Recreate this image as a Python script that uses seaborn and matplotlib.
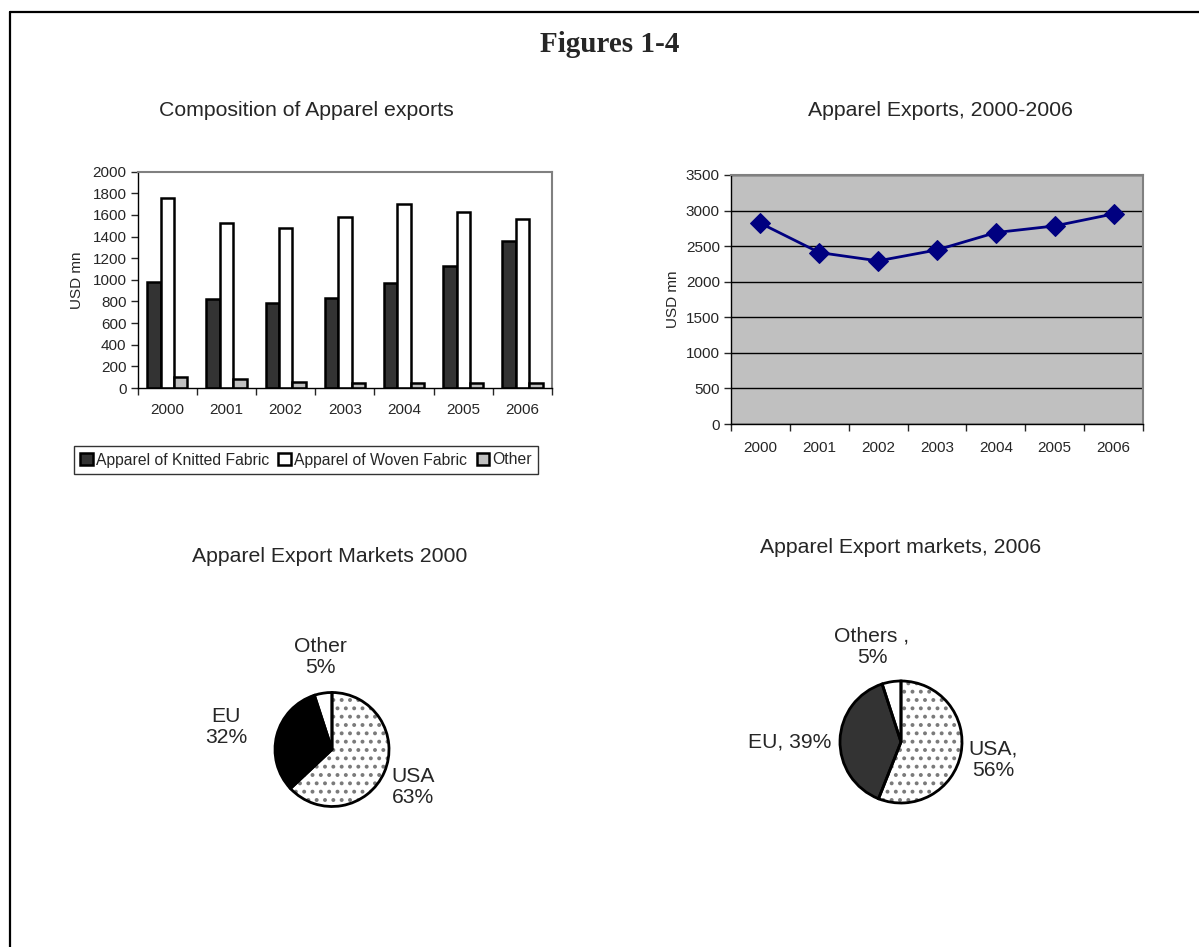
import numpy as np
import pandas as pd
import matplotlib
matplotlib.use("Agg")
import matplotlib.pyplot as plt
from matplotlib.lines import Line2D
import seaborn as sns

# ---------------- data ----------------
years = ["2000", "2001", "2002", "2003", "2004", "2005", "2006"]
knitted = [977, 820, 783, 829, 971, 1128, 1362]
woven = [1753, 1528, 1476, 1581, 1698, 1630, 1565]
other = [99, 83, 52, 49, 46, 46, 46]
series_names = ["Apparel of Knitted Fabric", "Apparel of Woven Fabric", "Other"]

total_exports = [2822, 2410, 2293, 2447, 2691, 2784, 2953]

pie2000_labels = ["USA\n63%", "EU\n32%", "Other\n5%"]
pie2000_values = [63, 32, 5]
pie2006_labels = ["USA,\n56%", "EU, 39%", "Others ,\n5%"]
pie2006_values = [56, 39, 5]

# ---------------- style ----------------
sns.set_style("white")
plt.rcParams["font.family"] = ["Liberation Sans", "DejaVu Sans"]
plt.rcParams["hatch.linewidth"] = 1.6

W, H = 1199, 947
fig = plt.figure(figsize=(W / 100, H / 100), dpi=100)


def fx(x):
    return x / W


def fy(y):
    return 1 - y / H


def box(l, t, r, b):
    return [fx(l), fy(b), fx(r) - fx(l), (b - t) / H]


# border of the page
fig.add_artist(Line2D([fx(10), 1.0], [fy(12.5), fy(12.5)], color="black", lw=1.6))
fig.add_artist(Line2D([fx(10), fx(10)], [0, fy(12.5)], color="black", lw=1.6))

fig.text(fx(610), fy(45), "Figures 1-4", ha="center", va="center",
         fontsize=21, fontweight="bold", family=["Liberation Serif", "DejaVu Serif"])

TICK_FS = 11
LEG_FS = 11.3
SUB_FS = 15.3
PIE_FS = 15.2

# ---------------- bar chart ----------------
ax1 = fig.add_axes(box(137.7, 171.7, 552, 388))
df = pd.DataFrame({
    "year": years * 3,
    "value": knitted + woven + other,
    "type": [series_names[0]] * 7 + [series_names[1]] * 7 + [series_names[2]] * 7,
})
sns.barplot(data=df, x="year", y="value", hue="type", ax=ax1,
            palette=["#333333", "#ffffff", "#c0c0c0"], saturation=1,
            edgecolor="black", linewidth=1.8, width=0.68, gap=0)
handles, labels = ax1.get_legend_handles_labels()
ax1.get_legend().remove()
ax1.set_xlim(-0.5, 6.5)
ax1.set_ylim(0, 2000)
ax1.set_yticks(np.arange(0, 2001, 200))
ax1.set_xlabel("")
ax1.set_ylabel("USD mn", fontsize=TICK_FS, labelpad=6)
ax1.set_xticks(np.arange(-0.5, 7, 1), minor=True)
ax1.tick_params(axis="x", which="major", length=0, labelsize=TICK_FS, pad=11)
ax1.tick_params(axis="x", which="minor", length=5, width=1, direction="out", bottom=True)
ax1.tick_params(axis="y", length=5, width=1, direction="out", left=True, labelsize=TICK_FS, pad=3)
for s in ["left", "bottom"]:
    ax1.spines[s].set_color("black")
    ax1.spines[s].set_linewidth(1)
for s in ["top", "right"]:
    ax1.spines[s].set_color("#808080")
    ax1.spines[s].set_linewidth(1.5)
fig.text(fx(306), fy(110), "Composition of Apparel exports", ha="center", va="center", fontsize=SUB_FS)

leg = fig.legend(handles, labels, loc="center", bbox_to_anchor=(fx(306), fy(460)), ncol=3,
                 fontsize=LEG_FS, frameon=True, fancybox=False, edgecolor="black",
                 handlelength=0.8, handleheight=0.8, handletextpad=0.2, columnspacing=0.6,
                 borderpad=0.4, borderaxespad=0)
leg.get_frame().set_linewidth(1)

# ---------------- line chart ----------------
ax2 = fig.add_axes(box(731, 175, 1143, 424))
ax2.set_facecolor("#c0c0c0")
xpos = list(range(len(years)))
sns.lineplot(x=xpos, y=total_exports, ax=ax2, color="#000080", linewidth=2,
             marker="D", markersize=10.5, markeredgecolor="#000080")
ax2.set_xlim(-0.5, 6.5)
ax2.set_ylim(0, 3500)
ax2.set_yticks(np.arange(0, 3501, 500))
ax2.set_xticks(xpos)
ax2.set_xticklabels(years)
ax2.set_xticks(np.arange(-0.5, 7, 1), minor=True)
ax2.yaxis.grid(True, color="black", linewidth=1)
ax2.set_axisbelow(True)
ax2.set_ylabel("USD mn", fontsize=TICK_FS)
ax2.tick_params(axis="x", which="major", length=0, labelsize=TICK_FS, pad=12)
ax2.tick_params(axis="x", which="minor", length=5, width=1, direction="out", bottom=True)
ax2.tick_params(axis="y", length=5, width=1, direction="out", left=True, labelsize=TICK_FS, pad=3)
for s in ["left", "bottom"]:
    ax2.spines[s].set_color("black")
    ax2.spines[s].set_linewidth(1)
for s in ["top", "right"]:
    ax2.spines[s].set_color("#808080")
    ax2.spines[s].set_linewidth(1.5)
fig.text(fx(940), fy(110), "Apparel Exports, 2000-2006", ha="center", va="center", fontsize=SUB_FS)


# ---------------- pies ----------------
def draw_pie(cx, cy, r, values, colors):
    s = 2.5 * r
    ax = fig.add_axes(box(cx - s / 2, cy - s / 2, cx + s / 2, cy + s / 2))
    ax.pie(values, colors=colors, startangle=90, counterclock=False,
           hatch=["..", "", ""],
           wedgeprops=dict(edgecolor="#7a7a7a", linewidth=0))
    ax.pie(values, startangle=90, counterclock=False,
           wedgeprops=dict(fill=False, edgecolor="black", linewidth=2))
    return ax


draw_pie(332, 749.5, 57, pie2000_values, ["white", "black", "white"])
fig.text(fx(330), fy(557), "Apparel Export Markets 2000", ha="center", va="center", fontsize=SUB_FS)
fig.text(fx(413), fy(787), pie2000_labels[0], ha="center", va="center", fontsize=PIE_FS, linespacing=1.15)
fig.text(fx(226), fy(727), pie2000_labels[1], ha="center", va="center", fontsize=PIE_FS, linespacing=1.15)
fig.text(fx(320), fy(657), pie2000_labels[2], ha="center", va="center", fontsize=PIE_FS, linespacing=1.15)

draw_pie(901, 742, 61, pie2006_values, ["white", "#333333", "white"])
fig.text(fx(901), fy(547), "Apparel Export markets, 2006", ha="center", va="center", fontsize=SUB_FS)
fig.text(fx(993), fy(760), pie2006_labels[0], ha="center", va="center", fontsize=PIE_FS, linespacing=1.15)
fig.text(fx(790), fy(742), pie2006_labels[1], ha="center", va="center", fontsize=PIE_FS, linespacing=1.15)
fig.text(fx(872), fy(647), pie2006_labels[2], ha="center", va="center", fontsize=PIE_FS, linespacing=1.15)

fig.savefig("out.png", dpi=100)
